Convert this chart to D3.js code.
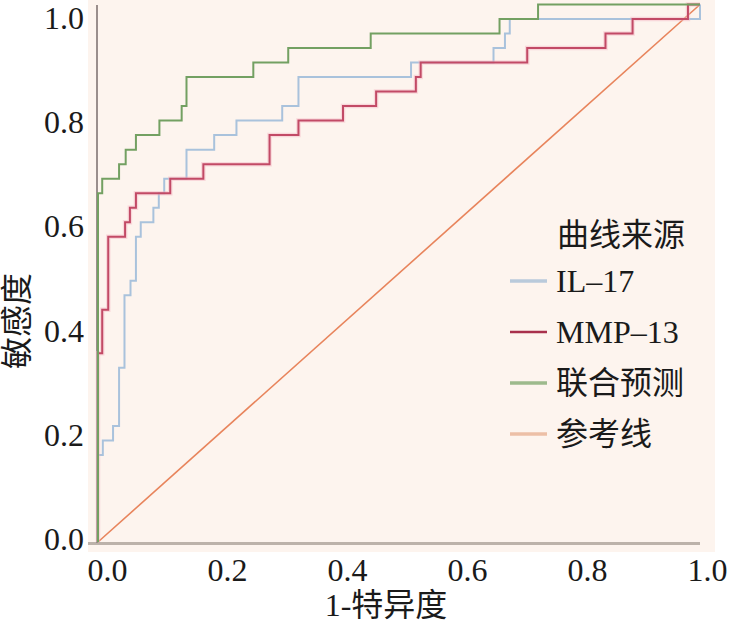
<!DOCTYPE html>
<html>
<head>
<meta charset="utf-8">
<script src="https://cdn.jsdelivr.net/npm/d3@7"></script>
<style>
  body { margin: 0; background: #fff; }
  svg text { font-family: "Liberation Serif", "Times New Roman", "Noto Sans CJK SC", serif; fill: #1a1a1a; }
</style>
</head>
<body>
<svg id="chart" width="729" height="626"></svg>
<script>
// ROC points (1-specificity, sensitivity), drawn as step-after curves
const il17Fpr = [0, 0, 0.008, 0.025, 0.035, 0.044, 0.054, 0.063, 0.071, 0.092, 0.101, 0.110, 0.147, 0.193, 0.230, 0.306, 0.333, 0.520, 0.657, 0.676, 0.684, 1, 1];
const il17Tpr = [0, 0.162, 0.189, 0.216, 0.324, 0.459, 0.486, 0.568, 0.595, 0.622, 0.649, 0.676, 0.730, 0.757, 0.784, 0.811, 0.865, 0.892, 0.919, 0.946, 0.973, 0.973, 1];

const mmpFpr = [0, 0, 0.007, 0.017, 0.045, 0.053, 0.063, 0.120, 0.175, 0.285, 0.333, 0.407, 0.462, 0.528, 0.536, 0.713, 0.843, 0.888, 0.980, 1];
const mmpTpr = [0, 0.351, 0.432, 0.568, 0.595, 0.622, 0.649, 0.676, 0.703, 0.757, 0.784, 0.811, 0.838, 0.865, 0.892, 0.919, 0.946, 0.973, 1, 1];

const combFpr = [0, 0, 0.007, 0.035, 0.046, 0.063, 0.102, 0.139, 0.147, 0.258, 0.316, 0.453, 0.667, 0.731, 1];
const combTpr = [0, 0.649, 0.676, 0.703, 0.730, 0.757, 0.784, 0.811, 0.865, 0.892, 0.919, 0.946, 0.973, 1, 1];

const refX = [0, 1];
const refY = [0, 1];

const tickValues = [0, 0.2, 0.4, 0.6, 0.8, 1.0];
const legendTitle = "曲线来源";
const legendNames = ["IL–17", "MMP–13", "联合预测", "参考线"];
const legendColors = ["#b9cadb", "#a8304c", "#9dba8c", "#ecbfa6"];

const svg = d3.select("#chart");

// plot scales
const x = d3.scaleLinear().domain([0, 1]).range([98, 700]);
const y = d3.scaleLinear().domain([0, 1]).range([542, 4.5]);
// tick labels sit a little off the data grid in the original
const xLab = d3.scaleLinear().domain([0, 1]).range([107, 707]);
const yLab = d3.scaleLinear().domain([0, 1]).range([538, 17.5]);

// background panel
svg.append("rect")
  .attr("x", 88).attr("y", 0)
  .attr("width", 627).attr("height", 552)
  .attr("fill", "#fdf4ee");

// axis lines
svg.append("line")
  .attr("x1", 88).attr("x2", 700)
  .attr("y1", 543.5).attr("y2", 543.5)
  .attr("stroke", "#bcb2aa").attr("stroke-width", 3);
svg.append("line")
  .attr("x1", 97).attr("x2", 97)
  .attr("y1", 5).attr("y2", 543)
  .attr("stroke", "#9a8e8c").attr("stroke-width", 2);

// tick labels via axes
const xAxis = svg.append("g")
  .attr("transform", "translate(0,555)")
  .call(d3.axisBottom(xLab).tickValues(tickValues).tickFormat(d3.format(".1f")).tickSize(0).tickPadding(0));
xAxis.select(".domain").remove();
xAxis.selectAll("text")
  .attr("font-size", 32)
  .attr("dy", "0.8em");

const yAxis = svg.append("g")
  .attr("transform", "translate(84,0)")
  .call(d3.axisLeft(yLab).tickValues(tickValues).tickFormat(d3.format(".1f")).tickSize(0).tickPadding(0));
yAxis.select(".domain").remove();
yAxis.selectAll("text")
  .attr("font-size", 32)
  .attr("dy", "0.35em");

// reference diagonal
const lineLinear = d3.line().x(d => x(d[0])).y(d => y(d[1]));
svg.append("path")
  .datum(d3.zip(refX, refY))
  .attr("d", lineLinear)
  .attr("fill", "none")
  .attr("stroke", "#e8845c")
  .attr("stroke-width", 1.6);

const stepLine = d3.line().x(d => x(d[0])).y(d => y(d[1])).curve(d3.curveStepAfter);

function drawCurve(fpr, tpr, color, halo) {
  const pts = d3.zip(fpr, tpr);
  if (halo) {
    svg.append("path").datum(pts).attr("d", stepLine)
      .attr("fill", "none").attr("stroke", halo)
      .attr("stroke-width", 4.5).attr("stroke-opacity", 0.45);
  }
  svg.append("path").datum(pts).attr("d", stepLine)
    .attr("fill", "none").attr("stroke", color)
    .attr("stroke-width", 2);
}

drawCurve(il17Fpr, il17Tpr, "#a9c2dc", null);
drawCurve(mmpFpr, mmpTpr, "#c24a66", "#f3b3c2");
drawCurve(combFpr, combTpr, "#73a062", null);

// legend
svg.append("text")
  .attr("x", 557).attr("y", 235)
  .attr("dy", "0.35em")
  .attr("font-size", 32)
  .text(legendTitle);

const legendY = d3.scalePoint().domain(legendNames).range([281, 434]);
const leg = svg.append("g").selectAll("g")
  .data(legendNames)
  .enter().append("g")
  .attr("transform", d => `translate(0,${legendY(d)})`);

leg.append("line")
  .attr("x1", 510).attr("x2", 547)
  .attr("y1", 0).attr("y2", 0)
  .attr("stroke", (d, i) => legendColors[i])
  .attr("stroke-width", (d, i) => i === 1 ? 2.5 : 3.5);

leg.append("text")
  .attr("x", 556)
  .attr("dy", "0.35em")
  .attr("font-size", 32)
  .text(d => d);

// axis titles
svg.append("text")
  .attr("x", 386).attr("y", 605)
  .attr("dy", "0.35em")
  .attr("text-anchor", "middle")
  .attr("font-size", 32)
  .text("1-特异度");

svg.append("text")
  .attr("transform", "translate(17,321) rotate(-90)")
  .attr("dy", "0.35em")
  .attr("text-anchor", "middle")
  .attr("font-size", 32)
  .text("敏感度");
</script>
</body>
</html>
